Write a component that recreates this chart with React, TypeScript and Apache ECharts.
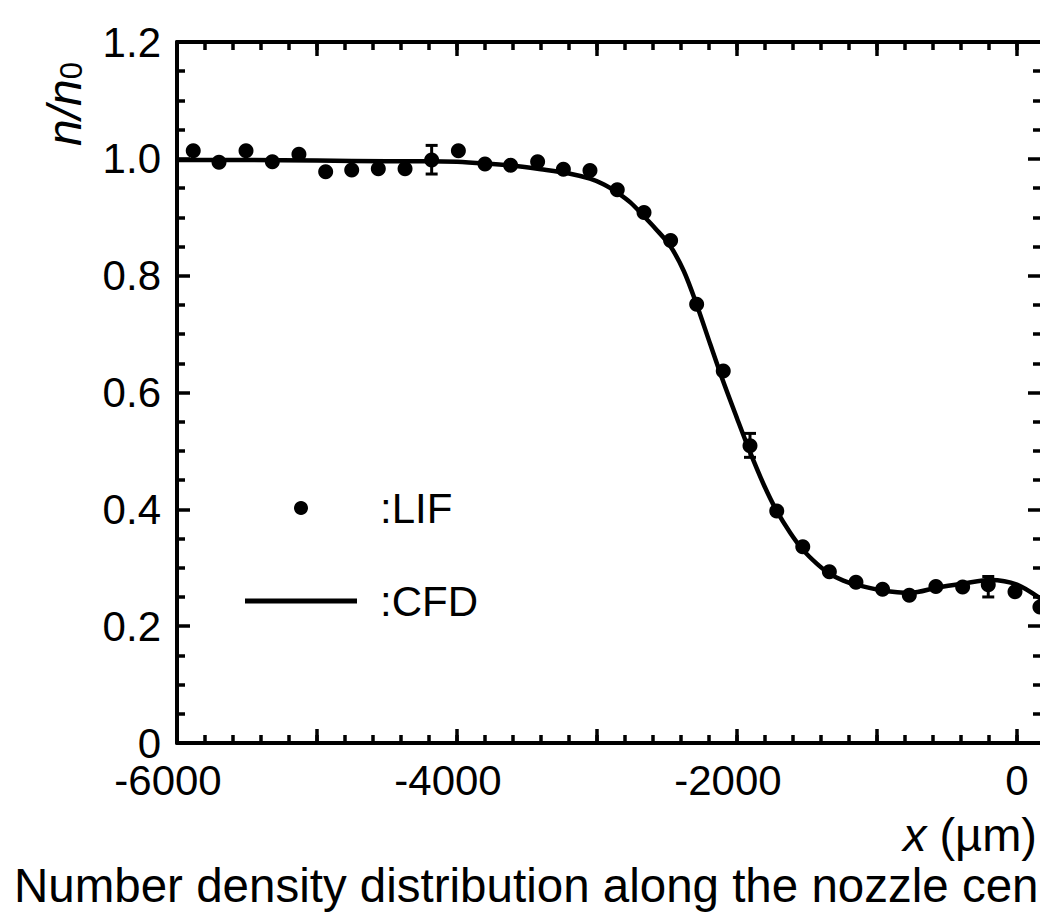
import React, { useEffect, useRef } from "react";
import * as echarts from "echarts";

const FONT = "'Liberation Sans', Arial, Helvetica, sans-serif";

// LIF measurements (x in µm, n/n0)
const LIF_X = [-5884, -5700, -5507, -5319, -5129, -4938, -4752, -4562, -4371, -4181, -3990, -3800, -3617, -3424, -3240, -3050, -2855, -2664, -2474, -2288, -2098, -1907, -1716, -1530, -1340, -1150, -960, -769, -579, -388, -205, -14, 164];
const LIF_Y = [1.014, 0.994, 1.014, 0.995, 1.008, 0.978, 0.981, 0.983, 0.983, 0.998, 1.014, 0.991, 0.989, 0.995, 0.982, 0.980, 0.947, 0.908, 0.860, 0.751, 0.637, 0.509, 0.397, 0.336, 0.293, 0.275, 0.263, 0.253, 0.268, 0.267, 0.271, 0.259, 0.233];

// CFD curve
const CFD_X = [-6000, -5500, -5000, -4500, -4200, -4000, -3800, -3600, -3400, -3200, -3050, -2950, -2860, -2760, -2670, -2580, -2480, -2380, -2290, -2190, -2100, -2000, -1910, -1810, -1720, -1620, -1530, -1430, -1340, -1240, -1150, -960, -760, -570, -380, -190, 0, 186];
const CFD_Y = [0.998, 0.998, 0.997, 0.996, 0.996, 0.995, 0.992, 0.988, 0.982, 0.975, 0.966, 0.956, 0.943, 0.925, 0.903, 0.880, 0.852, 0.808, 0.752, 0.682, 0.620, 0.556, 0.500, 0.443, 0.399, 0.360, 0.331, 0.307, 0.290, 0.278, 0.271, 0.261, 0.257, 0.266, 0.273, 0.279, 0.271, 0.244];

// Error bars
const ERR_X = [-4181, -1907, -205];
const ERR_LO = [0.974, 0.489, 0.250];
const ERR_HI = [1.023, 0.530, 0.285];

const X_MIN = -6000;
const X_MAX = 186;
const Y_MIN = 0;
const Y_MAX = 1.2;

const LEGEND_NAMES = ["LIF", "CFD"];
const CAPTION = "Number density distribution along the nozzle cen";

export default function App() {
  const ref = useRef<HTMLDivElement>(null);

  useEffect(() => {
    if (!ref.current) return;
    const chart = echarts.init(ref.current, undefined, { renderer: "svg" });

    const axisLineStyle = { color: "#000", width: 4 };
    const tickLine = { color: "#000", width: 3.5 };

    const xBase = (position: string, interval: number, len: number, showLine: boolean, showLabel: boolean) => ({
      type: "value",
      position,
      min: X_MIN,
      max: X_MAX,
      interval,
      axisLine: { show: showLine, onZero: false, lineStyle: axisLineStyle },
      axisTick: { show: true, inside: true, length: len, lineStyle: tickLine },
      splitLine: { show: false },
      axisLabel: showLabel
        ? {
            show: true,
            margin: 22,
            color: "#000",
            fontSize: 42,
            lineHeight: 30,
            fontFamily: FONT,
            formatter: (v: number) => {
              if (Math.round(v) % 2000 !== 0) return "";
              return v < 0 ? `{n|${v}}` : `{z|${v}}`;
            },
            rich: {
              n: { fontSize: 42, lineHeight: 30, fontFamily: FONT, color: "#000", padding: [0, 18, 0, 0] },
              z: { fontSize: 42, lineHeight: 30, fontFamily: FONT, color: "#000" },
            },
          }
        : { show: false },
    });

    const yBase = (position: string, showLabel: boolean, len: number, minorLen: number) => ({
      type: "value",
      position,
      min: Y_MIN,
      max: Y_MAX,
      interval: 0.2,
      axisLine: { show: true, onZero: false, lineStyle: axisLineStyle },
      axisTick: { show: true, inside: true, length: len, lineStyle: tickLine },
      minorTick: { show: true, splitNumber: 4, length: minorLen, lineStyle: tickLine },
      splitLine: { show: false },
      minorSplitLine: { show: false },
      axisLabel: showLabel
        ? {
            show: true,
            margin: 16,
            color: "#000",
            fontSize: 42,
            lineHeight: 30,
            fontFamily: FONT,
            formatter: (v: number) => (Math.abs(v) < 1e-9 ? "0" : v.toFixed(1)),
          }
        : { show: false },
    });

    const option: any = {
      animation: false,
      backgroundColor: "#fff",
      grid: { left: 177, top: 42, right: -3, bottom: 172, containLabel: false, outerBoundsMode: "none" },
      xAxis: [
        xBase("bottom", 1000, 14, true, true),
        xBase("bottom", 200, 8, false, false),
        xBase("top", 1000, 14, true, false),
        xBase("top", 200, 8, false, false),
      ],
      yAxis: [yBase("left", true, 13, 8), yBase("right", false, 15, 10)],
      legend: {
        show: true,
        orient: "vertical",
        left: 240,
        top: 480,
        itemWidth: 112,
        itemHeight: 14,
        itemGap: 47,
        selectedMode: false,
        data: [
          { name: LEGEND_NAMES[0], icon: "circle" },
          { name: LEGEND_NAMES[1], icon: "path://M0 0H112V5H0Z" },
        ],
        formatter: (name: string) => ":" + name,
        textStyle: { fontSize: 42, fontFamily: FONT, color: "#000", lineHeight: 46, padding: [0, 0, 0, 18] },
      },
      graphic: [
        {
          type: "text",
          x: 64,
          y: 104,
          rotation: Math.PI / 2,
          style: {
            text: "{i|n}{i|/}{i|n}{s|0}",
            align: "center",
            verticalAlign: "middle",
            fill: "#000",
            rich: {
              i: { fontSize: 48, fontStyle: "italic", fontFamily: FONT, fill: "#000" },
              s: { fontSize: 31, fontFamily: FONT, fill: "#000", padding: [14, 0, 0, 0] },
            },
          },
        },
        {
          type: "text",
          x: 1037,
          y: 834,
          style: {
            text: "{i|x} (µm)",
            align: "right",
            verticalAlign: "middle",
            font: `47px ${FONT}`,
            fill: "#000",
            rich: {
              i: { fontSize: 47, fontStyle: "italic", fontFamily: FONT, fill: "#000" },
            },
          },
        },
        {
          type: "text",
          x: 14,
          y: 885,
          style: {
            text: CAPTION,
            align: "left",
            verticalAlign: "middle",
            font: `47.5px ${FONT}`,
            fill: "#000",
          },
        },
      ],
      series: [
        {
          name: LEGEND_NAMES[1],
          type: "line",
          xAxisIndex: 0,
          yAxisIndex: 0,
          data: CFD_X.map((x, i) => [x, CFD_Y[i]]),
          smooth: 0.3,
          showSymbol: false,
          symbol: "none",
          lineStyle: { color: "#000", width: 4.5 },
          itemStyle: { color: "#000" },
          silent: true,
          z: 2,
        },
        {
          name: LEGEND_NAMES[0],
          type: "scatter",
          xAxisIndex: 0,
          yAxisIndex: 0,
          data: LIF_X.map((x, i) => [x, LIF_Y[i]]),
          symbol: "circle",
          symbolSize: 15,
          itemStyle: { color: "#000", opacity: 1 },
          silent: true,
          z: 3,
        },
        {
          name: "error",
          type: "custom",
          xAxisIndex: 0,
          yAxisIndex: 0,
          data: ERR_X.map((x, i) => [x, ERR_LO[i], ERR_HI[i]]),
          encode: { x: 0, y: [1, 2] },
          silent: true,
          z: 4,
          renderItem: (params: any, api: any) => {
            const x = api.value(0);
            const top = api.coord([x, api.value(2)]);
            const bot = api.coord([x, api.value(1)]);
            const w = 6;
            const st = { stroke: "#000", lineWidth: 3 };
            return {
              type: "group",
              children: [
                { type: "line", shape: { x1: top[0], y1: top[1], x2: bot[0], y2: bot[1] }, style: st },
                { type: "line", shape: { x1: top[0] - w, y1: top[1], x2: top[0] + w, y2: top[1] }, style: st },
                { type: "line", shape: { x1: bot[0] - w, y1: bot[1], x2: bot[0] + w, y2: bot[1] }, style: st },
              ],
            };
          },
        },
      ],
    };

    chart.setOption(option);
    return () => chart.dispose();
  }, []);

  return (
    <div
      ref={ref}
      style={{ position: "absolute", left: 0, top: 0, width: 1040, height: 915, background: "#fff" }}
    />
  );
}
